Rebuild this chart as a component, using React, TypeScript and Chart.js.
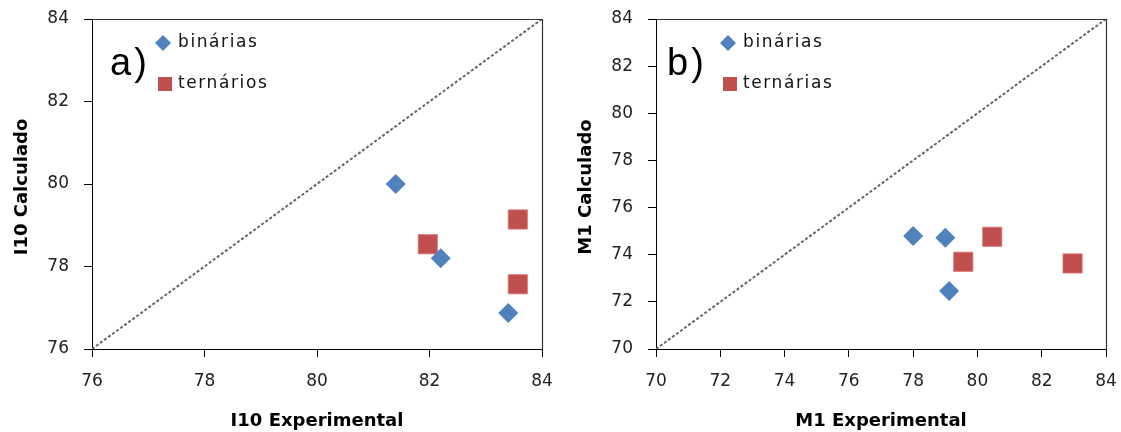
import React, { useEffect, useRef } from "react";
import { Chart, registerables } from "chart.js";

Chart.register(...registerables);

// ---- Data ----
const seriesNames = ["binárias", "ternários"];
const seriesNamesB = ["binárias", "ternárias"];

// Panel a) I10
const aBinX = [81.4, 82.2, 83.4];
const aBinY = [80.0, 78.2, 76.87];
const aTerX = [81.97, 83.57, 83.57];
const aTerY = [78.54, 79.14, 77.57];
const aTicks = [76, 78, 80, 82, 84];

// Panel b) M1
const bBinX = [78.0, 79.0, 79.12];
const bBinY = [74.79, 74.72, 72.46];
const bTerX = [79.56, 80.46, 82.96];
const bTerY = [73.7, 74.76, 73.63];
const bTicks = [70, 72, 74, 76, 78, 80, 82, 84];

const BLUE = "#4F81BD";
const RED = "#C0504D";
const FONT = "'DejaVu Sans', sans-serif";

function pts(xs: number[], ys: number[]) {
  return xs.map((x, i) => ({ x, y: ys[i] }));
}

type PanelCfg = {
  width: number;
  axisWidth: number;
  padRight: number;
  binX: number[];
  binY: number[];
  terX: number[];
  terY: number[];
  ticks: number[];
  names: string[];
  tag: string;
  tagX: number;
  legendX: number;
  xTitle: string;
  yTitle: string;
  yTitleX: number;
};

function makeChart(canvas: HTMLCanvasElement, cfg: PanelCfg) {
  const min = cfg.ticks[0];
  const max = cfg.ticks[cfg.ticks.length - 1];
  const overlay = {
    id: "overlay",
    afterDraw(chart: any) {
      const ctx = chart.ctx as CanvasRenderingContext2D;
      const ca = chart.chartArea;
      ctx.save();
      // frame top/right
      ctx.strokeStyle = "#333";
      ctx.lineWidth = 1.2;
      ctx.beginPath();
      ctx.moveTo(Math.round(ca.left) + 0.5, Math.round(ca.top) + 0.5);
      ctx.lineTo(Math.round(ca.right) + 0.5, Math.round(ca.top) + 0.5);
      ctx.lineTo(Math.round(ca.right) + 0.5, Math.round(ca.bottom) + 0.5);
      ctx.stroke();

      // panel tag
      ctx.fillStyle = "#000";
      ctx.font = `38px 'Liberation Sans', sans-serif`;
      ctx.textBaseline = "alphabetic";
      ctx.textAlign = "left";
      (ctx as any).letterSpacing = "3px";
      ctx.fillText(cfg.tag, cfg.tagX, 75);

      // legend
      const lx = cfg.legendX;
      ctx.fillStyle = BLUE;
      ctx.beginPath();
      ctx.moveTo(lx - 8, 43);
      ctx.lineTo(lx, 35);
      ctx.lineTo(lx + 8, 43);
      ctx.lineTo(lx, 51);
      ctx.closePath();
      ctx.fill();
      ctx.fillStyle = RED;
      ctx.fillRect(lx - 5, 77, 14, 14);

      ctx.fillStyle = "#111";
      ctx.font = `17px ${FONT}`;
      (ctx as any).letterSpacing = "1.6px";
      ctx.textBaseline = "middle";
      ctx.fillText(cfg.names[0], lx + 15, 43);
      ctx.fillText(cfg.names[1], lx + 15, 84);
      (ctx as any).letterSpacing = "0px";

      // axis titles
      ctx.fillStyle = "#000";
      ctx.font = `bold 18px ${FONT}`;
      ctx.textAlign = "center";
      ctx.fillText(cfg.xTitle, (ca.left + ca.right) / 2, 421);
      ctx.translate(cfg.yTitleX, (ca.top + ca.bottom) / 2 + 3);
      ctx.rotate(-Math.PI / 2);
      ctx.fillText(cfg.yTitle, 0, 0);
      ctx.restore();
    },
  };

  const tickFont = { family: FONT, size: 17 };
  return new Chart(canvas, {
    type: "scatter",
    data: {
      datasets: [
        {
          label: cfg.names[0],
          data: pts(cfg.binX, cfg.binY),
          pointStyle: "rectRot",
          pointRadius: 10,
          backgroundColor: BLUE,
          borderColor: BLUE,
          borderWidth: 0,
        },
        {
          label: cfg.names[1],
          data: pts(cfg.terX, cfg.terY),
          pointStyle: "rect",
          pointRadius: 13.6,
          backgroundColor: RED,
          borderColor: "rgba(220,120,120,0.8)",
          borderWidth: 1,
        },
        {
          label: "1:1",
          data: [
            { x: min, y: min },
            { x: max, y: max },
          ],
          showLine: true,
          borderColor: "#666",
          borderWidth: 2,
          borderDash: [3, 2],
          pointRadius: 0,
          fill: false,
        } as any,
      ],
    },
    options: {
      animation: false,
      responsive: false,
      events: [],
      layout: { padding: { left: 0, top: 19, right: cfg.padRight, bottom: 0 } },
      plugins: { legend: { display: false }, tooltip: { enabled: false } },
      scales: {
        x: {
          type: "linear",
          min,
          max,
          afterBuildTicks: (s: any) => {
            s.ticks = cfg.ticks.map((v) => ({ value: v }));
          },
          afterFit: (s: any) => {
            s.height = 83;
            s.paddingLeft = 0;
            s.paddingRight = 0;
          },
          grid: { display: true, drawOnChartArea: false, drawTicks: true, tickLength: 8, color: "#000" },
          border: { display: true, color: "#000", width: 1 },
          ticks: { font: tickFont, color: "#222", padding: 14, maxRotation: 0, autoSkip: false },
        },
        y: {
          type: "linear",
          min,
          max,
          afterBuildTicks: (s: any) => {
            s.ticks = cfg.ticks.map((v) => ({ value: v }));
          },
          afterFit: (s: any) => {
            s.width = cfg.axisWidth;
            s.paddingTop = 0;
            s.paddingBottom = 0;
          },
          grid: { display: true, drawOnChartArea: false, drawTicks: true, tickLength: 8, color: "#000" },
          border: { display: true, color: "#000", width: 1 },
          ticks: { font: tickFont, color: "#222", padding: 15, autoSkip: false },
        },
      },
    } as any,
    plugins: [overlay],
  });
}

export default function App() {
  const refA = useRef<HTMLCanvasElement>(null);
  const refB = useRef<HTMLCanvasElement>(null);

  useEffect(() => {
    const a = makeChart(refA.current!, {
      width: 560,
      axisWidth: 92,
      padRight: 18,
      binX: aBinX,
      binY: aBinY,
      terX: aTerX,
      terY: aTerY,
      ticks: aTicks,
      names: seriesNames,
      tag: "a)",
      tagX: 110,
      legendX: 163,
      xTitle: "I10 Experimental",
      yTitle: "I10 Calculado",
      yTitleX: 22,
    });
    const b = makeChart(refB.current!, {
      width: 561,
      axisWidth: 96,
      padRight: 15,
      binX: bBinX,
      binY: bBinY,
      terX: bTerX,
      terY: bTerY,
      ticks: bTicks,
      names: seriesNamesB,
      tag: "b)",
      tagX: 107,
      legendX: 168,
      xTitle: "M1 Experimental",
      yTitle: "M1 Calculado",
      yTitleX: 26,
    });
    return () => {
      a.destroy();
      b.destroy();
    };
  }, []);

  return (
    <div style={{ position: "absolute", left: 0, top: 0, width: 1121, height: 432, background: "#fff" }}>
      <canvas ref={refA} width={560} height={432} style={{ position: "absolute", left: 0, top: 0, display: "block" }} />
      <canvas ref={refB} width={561} height={432} style={{ position: "absolute", left: 560, top: 0, display: "block" }} />
    </div>
  );
}
